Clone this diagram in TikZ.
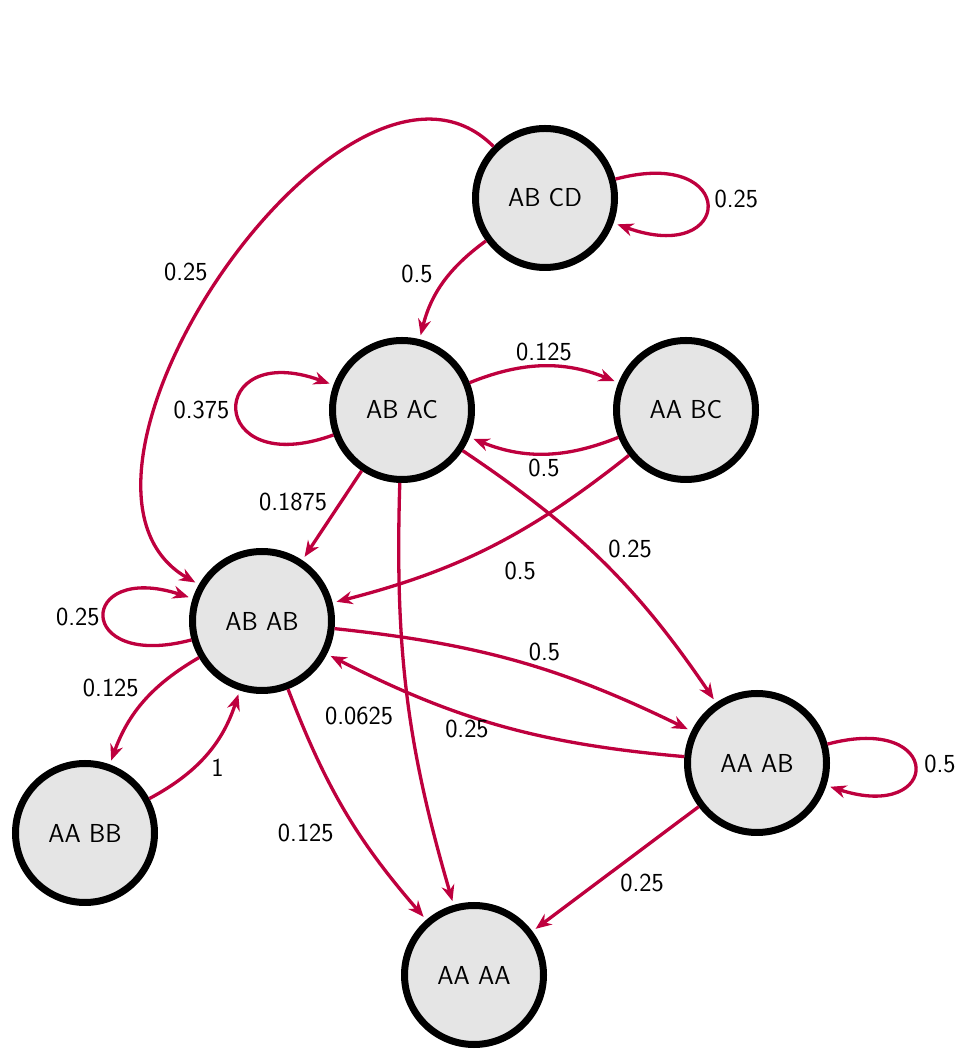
\documentclass[tikz,border=0pt]{standalone}
\usetikzlibrary{arrows.meta}
\definecolor{edgecol}{RGB}{190,0,62}
\begin{document}
\begin{tikzpicture}[x=1pt, y=1pt,
    state/.style={circle, draw=black, fill=black!10, line width=7pt, minimum size=139pt, inner sep=0pt},
    trans/.style={draw=edgecol, line width=3.3pt, -{Stealth[length=16pt, width=13pt]}, shorten >=4pt},
    font=\fontsize{26}{30}\selectfont\sffamily]
    \useasboundingbox (0,0) rectangle (966,1050);
    \node[state] (abcd) at (545,852) {AB CD};
    \node[state] (abac) at (402,640) {AB AC};
    \node[state] (aabc) at (686,640) {AA BC};
    \node[state] (abab) at (262,429) {AB AB};
    \node[state] (aaab) at (757,287) {AA AB};
    \node[state] (aabb) at (85,217) {AA BB};
    \node[state] (aaaa) at (474,75) {AA AA};
    % loops
    \draw[trans] (abcd) to[out=15, in=-20, looseness=7.5] node[right=3pt, yshift=6pt] {0.25} (abcd);
    \draw[trans] (abac) to[out=200, in=160, looseness=7] node[left=3pt] {0.375} (abac);
    \draw[trans] (abab) to[out=195, in=162, looseness=7.5] node[left] {0.25} (abab);
    \draw[trans] (aaab) to[out=15, in=-18, looseness=7.5] node[right=5pt, yshift=3pt] {0.5} (aaab);
    % transitions
    \draw[trans] (abcd) to[out=135, in=150] node[pos=0.5, left=12pt] {0.25} (abab);
    \draw[trans] (abcd) to[bend right=20] node[pos=0.4, left=12pt] {0.5} (abac);
    \draw[trans] (abac) to[bend left=22] node[above] {0.125} (aabc);
    \draw[trans] (aabc) to[bend left=22] node[below] {0.5} (abac);
    \draw[trans] (abac) -- node[above left] {0.1875} (abab);
    \draw[trans] (abac) to[bend right=9] node[pos=0.55, left=12pt] {0.0625} (aaaa);
    \draw[trans] (abac) to[bend left=11] node[above right] {0.25} (aaab);
    \draw[trans] (aabc) to[bend left=12] node[pos=0.5, below right=10pt] {0.5} (abab);
    \draw[trans] (abab) to[bend right=20] node[above left] {0.125} (aabb);
    \draw[trans] (aabb) to[bend right=22] node[below right] {1} (abab);
    \draw[trans] (abab) to[bend left=10] node[pos=0.58, above=4pt] {0.5} (aaab);
    \draw[trans] (aaab) to[bend left=11] node[pos=0.6, below] {0.25} (abab);
    \draw[trans] (abab) to[bend right=10] node[pos=0.6, left=20pt] {0.125} (aaaa);
    \draw[trans] (aaab) -- node[below right] {0.25} (aaaa);
\end{tikzpicture}
\end{document}
